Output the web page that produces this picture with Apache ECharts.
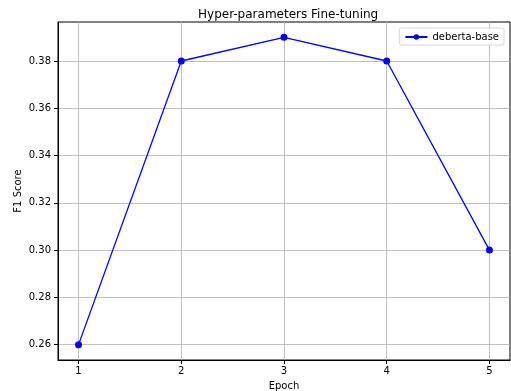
<!DOCTYPE html>
<html>
<head>
<meta charset="utf-8">
<script src="https://cdn.jsdelivr.net/npm/echarts@6/dist/echarts.min.js"></script>
<style>html,body{margin:0;padding:0;background:#fff}#c{width:511px;height:391px}</style>
</head>
<body>
<div id="c"></div>
<script>
const epochs = [1, 2, 3, 4, 5];
const f1Scores = [0.26, 0.38, 0.39, 0.38, 0.30];
const xTicks = [1, 2, 3, 4, 5];
const yTicks = [0.26, 0.28, 0.30, 0.32, 0.34, 0.36, 0.38];
const seriesName = 'deberta-base';

const font = 'DejaVu Sans';
const chart = echarts.init(document.getElementById('c'));
chart.setOption({
  animation: false,
  backgroundColor: '#fff',
  title: {
    text: 'Hyper-parameters Fine-tuning',
    left: 193, top: 4,
    textStyle: {fontFamily: font, fontSize: 12, fontWeight: 'normal', color: '#000'}
  },
  legend: {
    right: 7, top: 28,
    data: [seriesName],
    backgroundColor: '#fff',
    borderColor: '#d8d8d8', borderWidth: 1, borderRadius: 2,
    padding: [4, 5, 3, 5],
    itemWidth: 22, itemHeight: 7, itemGap: 5,
    textStyle: {fontFamily: font, fontSize: 10, color: '#000'}
  },
  grid: {left: 58, right: 1, top: 22, bottom: 31, outerBoundsMode: 'none', containLabel: false,
    show: true, borderColor: '#000', borderWidth: 1, backgroundColor: 'transparent'},
  xAxis: {
    type: 'value', min: 0.8, max: 5.2,
    name: 'Epoch', nameLocation: 'middle', nameGap: 21, nameMoveOverlap: false,
    nameTextStyle: {fontFamily: font, fontSize: 10, color: '#000'},
    axisLine: {show: true, lineStyle: {color: '#000', width: 1}},
    axisTick: {show: true, customValues: xTicks, length: 4, lineStyle: {color: '#000'}},
    axisLabel: {customValues: xTicks, fontFamily: font, fontSize: 10, color: '#000', margin: 6, formatter: v => String(v)},
    splitLine: {show: true, lineStyle: {color: '#b0b0b0', width: 0.8}}
  },
  yAxis: {
    type: 'value', min: 0.2535, max: 0.3965,
    name: 'F1 Score', nameLocation: 'middle', nameGap: 35, nameMoveOverlap: false,
    nameTextStyle: {fontFamily: font, fontSize: 10, color: '#000'},
    axisLine: {show: true, lineStyle: {color: '#000', width: 1}},
    axisTick: {show: true, customValues: yTicks, length: 4, lineStyle: {color: '#000'}},
    axisLabel: {customValues: yTicks, fontFamily: font, fontSize: 10, color: '#000', margin: 7, formatter: v => v.toFixed(2)},
    splitLine: {show: true, lineStyle: {color: '#b0b0b0', width: 0.8}}
  },
  series: [{
    name: seriesName, type: 'line',
    data: epochs.map((e, i) => [e, f1Scores[i]]),
    symbol: 'circle', symbolSize: 7,
    lineStyle: {color: '#0000ff', width: 1.3},
    itemStyle: {color: '#0000ff'}
  }]
});
</script>
</body>
</html>
